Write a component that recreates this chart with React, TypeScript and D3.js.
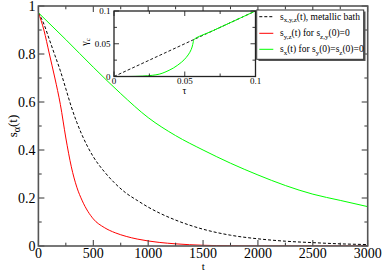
import React from 'react';
import * as d3 from 'd3';

// main panel: t values and the decay curves
const tGrid = [0, 50, 100, 150, 200, 250, 300, 350, 400, 500, 600, 700, 800, 900, 1000, 1100, 1250, 1500, 1750, 2000, 2250, 2500, 2750, 3000];
const metallic = [0.972, 0.925, 0.86, 0.795, 0.73, 0.655, 0.58, 0.515, 0.46, 0.372, 0.31, 0.26, 0.22, 0.19, 0.162, 0.138, 0.108, 0.07, 0.045, 0.03, 0.02, 0.014, 0.009, 0.006];
const syz = [0.972, 0.9, 0.8, 0.7, 0.59, 0.45, 0.33, 0.245, 0.188, 0.113, 0.077, 0.055, 0.04, 0.029, 0.021, 0.015, 0.009, 0.003, 0.001, 0, 0, 0, 0, 0];
// green is sampled on its own grid
const tGreen = [0, 250, 500, 750, 1000, 1250, 1500, 1750, 2000, 2250, 2500, 2750, 3000];
const sxGreen = [0.972, 0.86, 0.745, 0.635, 0.535, 0.46, 0.4, 0.345, 0.296, 0.252, 0.216, 0.19, 0.164];

const xTicks = [0, 500, 1000, 1500, 2000, 2500, 3000];
const yTicks = [0, 0.2, 0.4, 0.6, 0.8, 1];
const yTickLabels = ['0', '0.2', '0.4', '0.6', '0.8', '1'];

// inset: gamma_c vs tau
const tauDiag = [0, 0.1];
const gammaDiag = [0, 0.1];
const tauGreen = [0, 0.01, 0.02, 0.027, 0.032, 0.036, 0.042, 0.0478, 0.051, 0.0536, 0.0552, 0.056, 0.0566, 0.07, 0.085, 0.1];
const gammaGreen = [0, 0, 0.0006, 0.0018, 0.0036, 0.0066, 0.013, 0.022, 0.029, 0.037, 0.045, 0.0525, 0.0566, 0.07, 0.085, 0.1];
const insetTicks = [0, 0.05, 0.1];
const insetTickLabels = ['0', '0.05', '0.1'];

const FONT = 'Times New Roman, Times, Liberation Serif, DejaVu Serif, serif';

export default function App() {
  const W = 382, H = 271;
  const m = { left: 38.4, right: 367.7, top: 6, bottom: 246 };
  const x = d3.scaleLinear().domain([0, 3000]).range([m.left, m.right]);
  const y = d3.scaleLinear().domain([0, 1]).range([m.bottom, m.top]);

  const line = d3.line<[number, number]>()
    .x(d => x(d[0])).y(d => y(d[1])).curve(d3.curveMonotoneX);

  const blackPath = line(tGrid.map((t, i) => [t, metallic[i]]))!;
  const redPath = line(tGrid.map((t, i) => [t, syz[i]]))!;
  const greenPath = line(tGreen.map((t, i) => [t, sxGreen[i]]))!;

  const ins = { left: 114, right: 255.5, top: 11, bottom: 76.5 };
  const ix = d3.scaleLinear().domain([0, 0.1]).range([ins.left, ins.right]);
  const iy = d3.scaleLinear().domain([0, 0.1]).range([ins.bottom, ins.top]);
  const iline = d3.line<[number, number]>().x(d => ix(d[0])).y(d => iy(d[1]));
  const diagPath = iline(tauDiag.map((t, i) => [t, gammaDiag[i]]))!;
  const insGreenPath = iline.curve(d3.curveCatmullRom)(tauGreen.map((t, i) => [t, gammaGreen[i]]))!;

  const xMinor = d3.range(0, 3001, 250);
  const yMinor = d3.range(0, 1.001, 0.1);
  const iMinor = [0, 0.025, 0.05, 0.075, 0.1];

  const legend = [
    { y: 16.7, color: '#000', dash: '3,2', main: 's', sub: 'x,y,z', rest: '(t), metallic bath' },
    { y: 33.3, color: '#ff0000', dash: undefined, main: 's', sub: 'y,z', rest: '(t) for s', sub2: 'z,y', rest2: '(0)=0' },
    { y: 49.3, color: '#00ff00', dash: undefined, main: 's', sub: 'x', rest: '(t) for s', sub2: 'y', rest2: '(0)=s', sub3: 'z', rest3: '(0)=0' },
  ];

  return (
    <svg width={W} height={H} fontFamily={FONT} style={{ position: 'absolute', left: 0, top: 0, background: '#fff' }}>
      <defs>
        <clipPath id="main-clip">
          <rect x={m.left} y={m.top} width={m.right - m.left} height={m.bottom - m.top} />
        </clipPath>
      </defs>
      <rect width={W} height={H} fill="#fff" />

      <g clipPath="url(#main-clip)" fill="none" strokeWidth={1}>
        <path d={blackPath} stroke="#000" strokeDasharray="3,2" />
        <path d={redPath} stroke="#ff0000" />
        <path d={greenPath} stroke="#00ff00" />
      </g>

      {/* main ticks, inward on all sides */}
      <g stroke="#333" strokeWidth={1}>
        {xMinor.map(t => {
          const len = t % 500 === 0 ? 6 : 3.3;
          return (
            <g key={'xt' + t}>
              <line x1={x(t)} x2={x(t)} y1={m.bottom} y2={m.bottom - len} />
              <line x1={x(t)} x2={x(t)} y1={m.top} y2={m.top + len} />
            </g>
          );
        })}
        {yMinor.map((v, i) => {
          const len = i % 2 === 0 ? 6 : 3.3;
          return (
            <g key={'yt' + i}>
              <line x1={m.left} x2={m.left + len} y1={y(v)} y2={y(v)} />
              <line x1={m.right} x2={m.right - len} y1={y(v)} y2={y(v)} />
            </g>
          );
        })}
      </g>
      <rect x={m.left} y={m.top} width={m.right - m.left} height={m.bottom - m.top} fill="none" stroke="#555" strokeWidth={1.6} />

      <g fontSize={14} fill="#000">
        {xTicks.map(t => (
          <text key={'xl' + t} x={x(t)} y={257.5} textAnchor="middle">{t}</text>
        ))}
        {yTicks.map((v, i) => (
          <text key={'yl' + i} x={35.5} y={y(v) + 4.6} textAnchor="end">{yTickLabels[i]}</text>
        ))}
      </g>
      <text x={203.3} y={270} fontSize={11} textAnchor="middle">t</text>
      <text transform="translate(17,126) rotate(-90)" fontSize={13} textAnchor="middle">
        s<tspan fontSize={10} dy={3}>α</tspan><tspan dy={-3}>(t)</tspan>
      </text>

      {/* inset */}
      <rect x={ins.left} y={ins.top} width={ins.right - ins.left} height={ins.bottom - ins.top} fill="#fff" />
      <path d={diagPath} fill="none" stroke="#000" strokeWidth={0.9} strokeDasharray="3,2" />
      <path d={insGreenPath} fill="none" stroke="#00ff00" strokeWidth={1} />
      <g stroke="#222" strokeWidth={0.9}>
        {iMinor.map((v, i) => {
          const len = i % 2 === 0 ? 5 : 3;
          return (
            <g key={'it' + i}>
              <line x1={ix(v)} x2={ix(v)} y1={ins.bottom} y2={ins.bottom - len} />
              <line x1={ix(v)} x2={ix(v)} y1={ins.top} y2={ins.top + len} />
              <line x1={ins.left} x2={ins.left + len} y1={iy(v)} y2={iy(v)} />
              <line x1={ins.right} x2={ins.right - len} y1={iy(v)} y2={iy(v)} />
            </g>
          );
        })}
      </g>
      <rect x={ins.left} y={ins.top} width={ins.right - ins.left} height={ins.bottom - ins.top} fill="none" stroke="#222" strokeWidth={1.3} />
      <g fontSize={9} fill="#000">
        {insetTicks.map((v, i) => (
          <text key={'ixl' + i} x={ix(v)} y={84} textAnchor="middle">{insetTickLabels[i]}</text>
        ))}
        {insetTicks.map((v, i) => (
          <text key={'iyl' + i} x={110.5} y={iy(v) + 3.2} textAnchor="end">{insetTickLabels[i]}</text>
        ))}
      </g>
      <text x={184.5} y={93.5} fontSize={9.5} textAnchor="middle">τ</text>
      <text transform="translate(88,42) rotate(-90)" fontSize={10} textAnchor="middle">
        γ<tspan fontSize={7} dy={2}>c</tspan>
      </text>

      {/* legend */}
      <rect x={258.5} y={11.5} width={107} height={49.5} fill="#555" />
      <rect x={256.7} y={10} width={107} height={49.3} fill="#fff" stroke="#333" strokeWidth={1} />
      {legend.map((e, i) => (
        <g key={'lg' + i}>
          <line x1={259.3} x2={273.3} y1={e.y} y2={e.y} stroke={e.color} strokeWidth={1} strokeDasharray={e.dash} />
          <text x={280} y={e.y + 3} fontSize={9.5} fill="#000">
            {e.main}<tspan fontSize={7} dy={2.5}>{e.sub}</tspan>
            <tspan dy={-2.5}>{e.rest}</tspan>
            {e.sub2 && <tspan fontSize={7} dy={2.5}>{e.sub2}</tspan>}
            {e.rest2 && <tspan dy={-2.5}>{e.rest2}</tspan>}
            {e.sub3 && <tspan fontSize={7} dy={2.5}>{e.sub3}</tspan>}
            {e.rest3 && <tspan dy={-2.5}>{e.rest3}</tspan>}
          </text>
        </g>
      ))}
    </svg>
  );
}
